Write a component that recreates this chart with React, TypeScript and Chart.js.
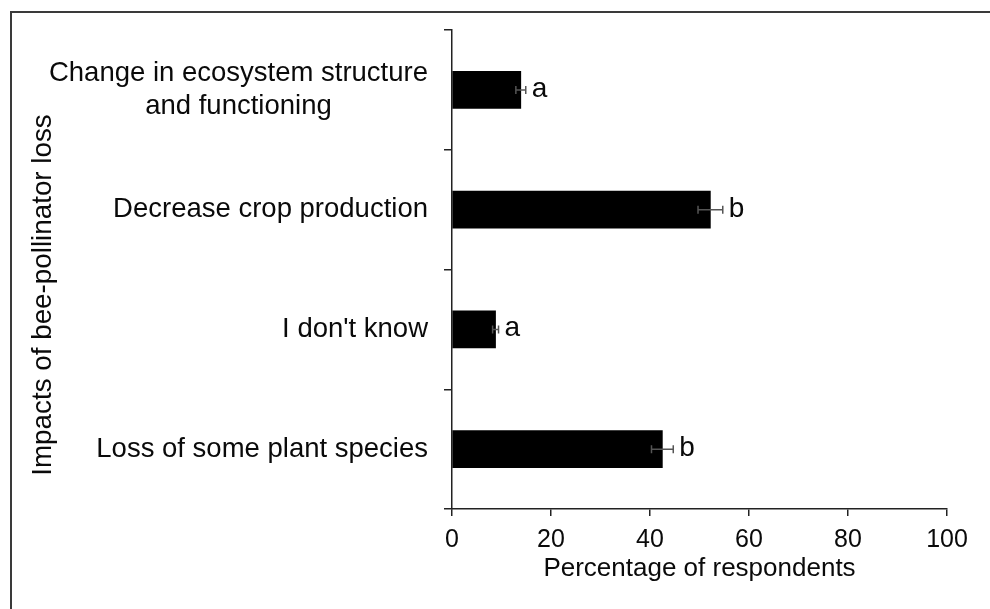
import React, { useEffect, useRef } from "react";
import { Chart, registerables } from "chart.js";

Chart.register(...registerables);

const categories: (string | string[])[] = [
  ["Change in ecosystem structure", "and functioning"],
  "Decrease crop production",
  "I don't know",
  "Loss of some plant species",
];
const percentages = [13.9, 52.2, 8.8, 42.5];
const errors = [1.0, 2.5, 0.6, 2.2];
const letters = ["a", "b", "a", "b"];
const xTicks = [0, 20, 40, 60, 80, 100];
const xTitle = "Percentage of respondents";
const yTitle = "Impacts of bee-pollinator loss";

const FONT = "'Liberation Sans', Arial, sans-serif";
const TEXT = "#0a0a0a";
const AXIS = "#222222";

const overlay = {
  id: "overlay",
  afterDatasetsDraw(chart: any) {
    const ctx = chart.ctx;
    const xs = chart.scales.x;
    const ys = chart.scales.y;
    ctx.save();
    // error bars
    ctx.strokeStyle = "#555555";
    ctx.lineWidth = 1.5;
    percentages.forEach((v, i) => {
      const yc = ys.getPixelForValue(i);
      const x1 = xs.getPixelForValue(v - errors[i]);
      const x2 = xs.getPixelForValue(v + errors[i]);
      ctx.beginPath();
      ctx.moveTo(x1, yc);
      ctx.lineTo(x2, yc);
      ctx.moveTo(x1, yc - 4);
      ctx.lineTo(x1, yc + 4);
      ctx.moveTo(x2, yc - 4);
      ctx.lineTo(x2, yc + 4);
      ctx.stroke();
    });
    // significance letters
    ctx.fillStyle = TEXT;
    ctx.font = `28px ${FONT}`;
    ctx.textAlign = "left";
    ctx.textBaseline = "alphabetic";
    percentages.forEach((v, i) => {
      const yc = ys.getPixelForValue(i);
      const x2 = xs.getPixelForValue(v + errors[i]);
      ctx.fillText(letters[i], x2 + 6, yc + 7);
    });
    ctx.restore();
  },
  afterDraw(chart: any) {
    const ctx = chart.ctx;
    const ys = chart.scales.y;
    ctx.save();
    // category labels
    ctx.fillStyle = TEXT;
    ctx.font = `27.5px ${FONT}`;
    ctx.textBaseline = "middle";
    const right = ys.right - 24;
    categories.forEach((lab, i) => {
      const yc = ys.getPixelForValue(i);
      if (Array.isArray(lab)) {
        const widths = lab.map((l) => ctx.measureText(l).width);
        const maxW = Math.max(...widths);
        const cx = right - maxW / 2;
        const lh = 33;
        const y0 = yc - ((lab.length - 1) * lh) / 2;
        ctx.textAlign = "center";
        lab.forEach((l, k) => ctx.fillText(l, cx, y0 + k * lh));
      } else {
        ctx.textAlign = "right";
        ctx.fillText(lab, right, yc);
      }
    });
    // y title
    ctx.save();
    ctx.font = `27.8px ${FONT}`;
    ctx.translate(43, 295);
    ctx.rotate(-Math.PI / 2);
    ctx.textAlign = "center";
    ctx.textBaseline = "middle";
    ctx.fillText(yTitle, 0, 0);
    ctx.restore();
    // outer frame (left and top edges)
    ctx.strokeStyle = "#3a3a3a";
    ctx.lineWidth = 2;
    ctx.beginPath();
    ctx.moveTo(11, chart.height);
    ctx.lineTo(11, 12);
    ctx.lineTo(chart.width, 12);
    ctx.stroke();
    ctx.restore();
  },
};

export default function App() {
  const ref = useRef<HTMLCanvasElement | null>(null);

  useEffect(() => {
    if (!ref.current) return;
    const chart = new Chart(ref.current, {
      type: "bar",
      data: {
        labels: categories as any,
        datasets: [
          {
            data: percentages,
            backgroundColor: "#000000",
            borderWidth: 0,
            barThickness: 37,
          },
        ],
      },
      options: {
        indexAxis: "y",
        animation: false,
        responsive: false,
        devicePixelRatio: 1,
        layout: { padding: { left: 0, right: 43, top: 30, bottom: 0 } },
        plugins: {
          legend: { display: false },
          tooltip: { enabled: false },
          title: { display: false },
        },
        scales: {
          x: {
            type: "linear",
            min: 0,
            max: 100,
            afterBuildTicks: (s: any) => {
              s.ticks = xTicks.map((v) => ({ value: v }));
            },
            afterFit: (s: any) => {
              s.height = 100;
            },
            grid: {
              drawOnChartArea: false,
              drawTicks: true,
              tickLength: 7,
              color: AXIS,
              lineWidth: 1.5,
            },
            border: { display: true, color: AXIS, width: 1.5 },
            ticks: {
              font: { family: FONT, size: 25 },
              color: TEXT,
              padding: 9,
              maxRotation: 0,
            },
            title: {
              display: true,
              text: xTitle,
              font: { family: FONT, size: 26 },
              color: TEXT,
              padding: { top: 0, bottom: 25 },
            },
          },
          y: {
            type: "category",
            afterFit: (s: any) => {
              s.width = 452;
            },
            grid: {
              offset: true,
              drawOnChartArea: false,
              drawTicks: true,
              tickLength: 8,
              color: AXIS,
              lineWidth: 1.5,
            },
            border: { display: true, color: AXIS, width: 1.5 },
            ticks: { display: false },
          },
        },
      },
      plugins: [overlay],
    });
    return () => chart.destroy();
  }, []);

  return (
    <div
      style={{
        position: "fixed",
        left: 0,
        top: 0,
        width: 990,
        height: 609,
        background: "#ffffff",
      }}
    >
      <canvas ref={ref} width={990} height={609} style={{ display: "block" }} />
    </div>
  );
}
